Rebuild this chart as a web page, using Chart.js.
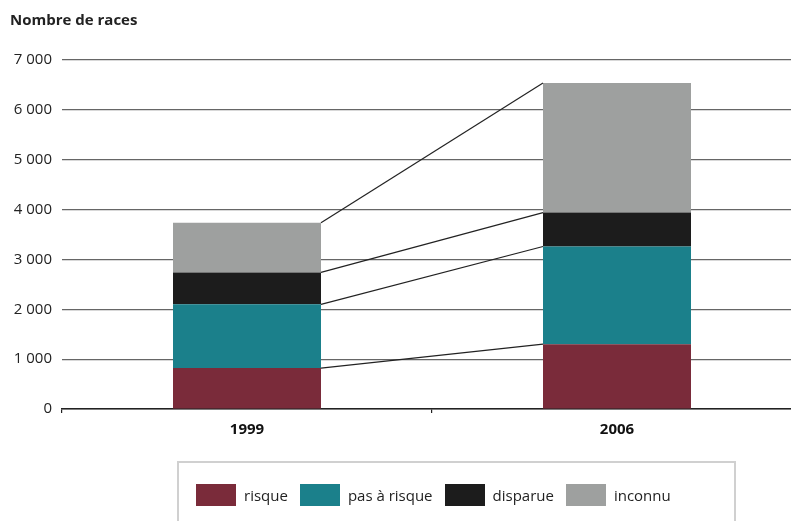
<!DOCTYPE html>
<html lang="fr">
<head>
<meta charset="utf-8">
<title>Nombre de races</title>
<script src="https://cdn.jsdelivr.net/npm/chart.js@4/dist/chart.umd.min.js"></script>
<style>
  html, body { margin: 0; padding: 0; background: #fff; overflow: hidden; }
  #wrap { position: relative; width: 791px; height: 521px; overflow: hidden; }
  #chart { position: absolute; left: 0; top: 0; }
  #titre {
    position: absolute; left: 10px; top: 9px;
    font: bold 15px "Open Sans", sans-serif; color: #222;
  }
  #legende {
    position: absolute; left: 177px; top: 461px; width: 559px; height: 70px;
    border: 2px solid #d0d0d0; box-sizing: border-box;
    display: flex; align-items: flex-start; padding: 21px 0 0 17px;
    font: 15px "Open Sans", sans-serif; color: #222;
  }
  #legende .item { display: flex; align-items: center; margin-right: 12px; }
  #legende .box { width: 40px; height: 22px; margin-right: 8px; }
</style>
</head>
<body>
<div id="wrap">
  <canvas id="chart" width="802" height="521"></canvas>
  <div id="titre">Nombre de races</div>
  <div id="legende"></div>
</div>
<script>
var annees = ['1999', '2006']

var risque = [820, 1300]
var pasRisque = [1280, 1960]
var disparue = [640, 680]
var inconnu = [995, 2600]

var noms = ['risque', 'pas à risque', 'disparue', 'inconnu']
var couleurs = ['#7a2b3a', '#1b808b', '#1c1c1c', '#9ea09f']

function milliers(v) {
    return String(v).replace(/\B(?=(\d{3})+(?!\d))/g, ' ')
}

// traits qui relient le haut de chaque tranche entre les deux barres
var liaisons = {
    id: 'liaisons',
    afterDatasetsDraw: function (chart) {
        var ctx = chart.ctx
        ctx.save()
        ctx.strokeStyle = '#222'
        ctx.lineWidth = 1.2
        chart.data.datasets.forEach(function (ds, i) {
            var meta = chart.getDatasetMeta(i)
            var a = meta.data[0], b = meta.data[1]
            ctx.beginPath()
            ctx.moveTo(a.x + a.width / 2, a.y)
            ctx.lineTo(b.x - b.width / 2, b.y)
            ctx.stroke()
        })
        ctx.restore()
    }
}

function construireLegende(chart) {
    var div = document.getElementById('legende')
    div.innerHTML = ''
    chart.data.datasets.forEach(function (ds) {
        var item = document.createElement('div')
        item.className = 'item'
        var box = document.createElement('span')
        box.className = 'box'
        box.style.background = ds.backgroundColor
        var txt = document.createElement('span')
        txt.textContent = ds.label
        item.appendChild(box)
        item.appendChild(txt)
        div.appendChild(item)
    })
}

var series = [risque, pasRisque, disparue, inconnu]
var datasets = series.map(function (s, i) {
    return {
        label: noms[i],
        data: s,
        backgroundColor: couleurs[i],
        borderWidth: 0,
        barPercentage: 1,
        categoryPercentage: 0.4
    }
})

var ctx = document.getElementById('chart').getContext('2d')
var chart = new Chart(ctx, {
    type: 'bar',
    data: { labels: annees, datasets: datasets },
    plugins: [liaisons],
    options: {
        responsive: false,
        animation: false,
        devicePixelRatio: 1,
        layout: { padding: { top: 60, left: 0, right: 0, bottom: 0 } },
        plugins: {
            legend: { display: false },
            tooltip: { enabled: false }
        },
        scales: {
            x: {
                stacked: true,
                afterFit: function (scale) { scale.height = 112 },
                grid: {
                    drawOnChartArea: false,
                    drawTicks: true,
                    tickLength: 4,
                    color: '#222',
                    lineWidth: 1.2
                },
                border: { color: '#222', width: 1.5 },
                ticks: {
                    color: '#111',
                    padding: 8,
                    font: { family: 'Open Sans', size: 15, weight: 'bold' }
                }
            },
            y: {
                stacked: true,
                min: 0,
                max: 7000,
                afterFit: function (scale) { scale.width = 62 },
                grid: { color: '#666', lineWidth: 1.2, drawTicks: false },
                border: { display: false },
                ticks: {
                    stepSize: 1000,
                    padding: 10,
                    color: '#222',
                    font: { family: 'Open Sans', size: 15 },
                    callback: function (v) { return milliers(v) }
                }
            }
        }
    }
})

construireLegende(chart)
</script>
</body>
</html>
